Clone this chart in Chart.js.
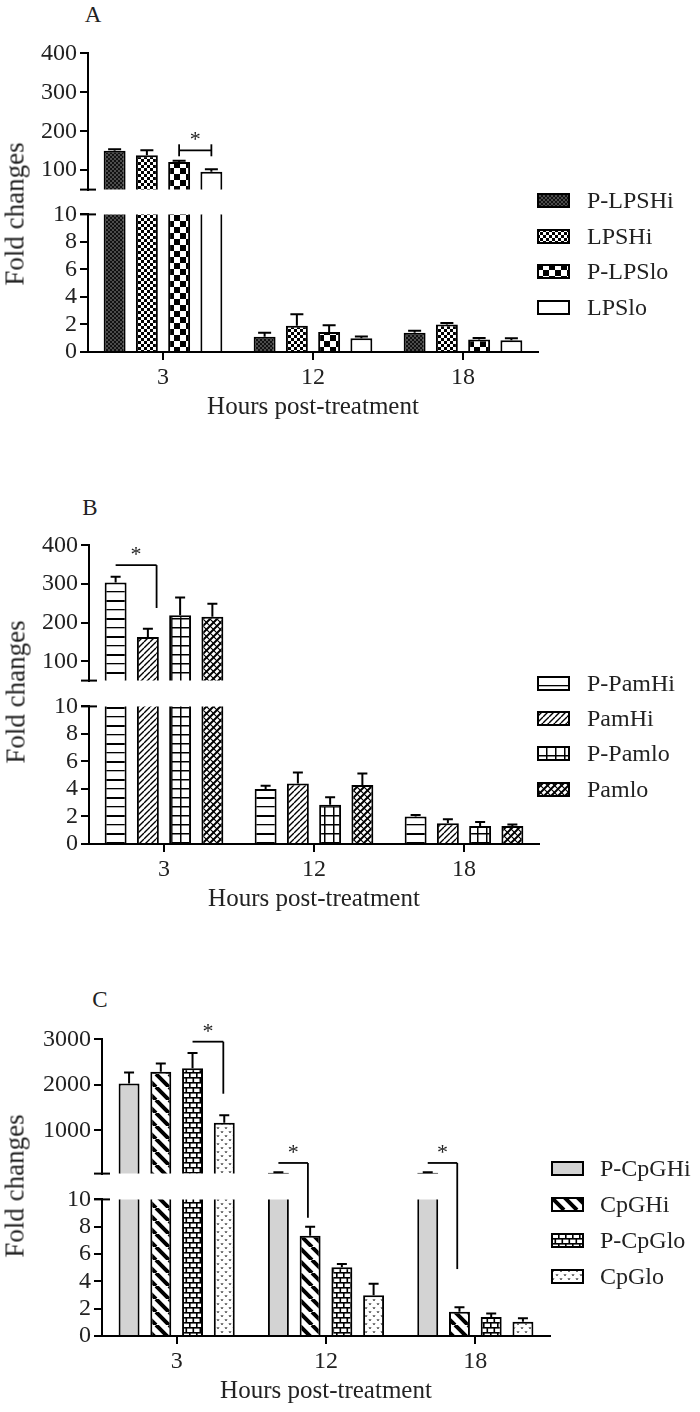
<!DOCTYPE html>
<html>
<head>
<meta charset="utf-8">
<script src="https://cdn.jsdelivr.net/npm/chart.js@4.4.1/dist/chart.umd.min.js"></script>
<style>
  html, body { margin: 0; padding: 0; background: #fff; }
  #page { position: relative; width: 700px; height: 1412px; overflow: hidden; font-family: 'Liberation Serif', 'Times New Roman', serif; color: #222; }
  #page canvas { position: absolute; }
  .txt { position: absolute; white-space: nowrap; line-height: 1; }
</style>
</head>
<body>
<div id="page"></div>
<script>
// ---- data ----
const hours = ['3', '12', '18'];
const lowerTicks = [0, 2, 4, 6, 8, 10];

// panel A
const seriesA = ['P-LPSHi', 'LPSHi', 'P-LPSlo', 'LPSlo'];
const meansA = [[150, 1.1, 1.4], [138, 1.9, 2.0], [121, 1.45, 0.9], [96, 1.0, 0.85]];
const errorsA = [[4, 0.3, 0.15], [13, 0.85, 0.1], [3, 0.5, 0.12], [6, 0.12, 0.15]];
const upperTicksA = [100, 200, 300, 400];

// panel B
const seriesB = ['P-PamHi', 'PamHi', 'P-Pamlo', 'Pamlo'];
const meansB = [[304, 4.0, 2.0], [163, 4.4, 1.5], [219, 2.86, 1.3], [215, 4.28, 1.3]];
const errorsB = [[15, 0.23, 0.1], [21, 0.8, 0.3], [46, 0.53, 0.3], [34, 0.84, 0.12]];
const upperTicksB = [100, 200, 300, 400];

// panel C
const seriesC = ['P-CpGHi', 'CpGHi', 'P-CpGlo', 'CpGlo'];
const meansC = [[2030, 70, 70], [2290, 7.33, 1.77], [2365, 5.03, 1.4], [1170, 2.98, 1.05]];
const errorsC = [[240, 12, 12], [180, 0.66, 0.33], [335, 0.25, 0.25], [160, 0.85, 0.25]];
const upperTicksC = [1000, 2000, 3000];

// significance brackets (group, bar slots, values)
const bracketsA = [{ group: 0, from: 2, to: 3, top: 151, end: null }];
const bracketsB = [{ group: 0, from: 0, to: 1.27, top: 349, end: 238 }];
const bracketsC = [
    { group: 0, from: 2, to: 2.97, top: 2950, end: 1806 },
    { group: 1, from: 0, to: 0.93, top: 284, end: 8.66 },
    { group: 2, from: 0, to: 0.93, top: 284, end: 4.9 }
];

// ---- layout ----
const FONT = "'Liberation Serif', 'Times New Roman', serif";
const PAD = 16;
const panels = [
    { letter: 'A', series: seriesA, means: meansA, errors: errorsA, upperTicks: upperTicksA, upperMin: 50, brackets: bracketsA,
      patterns: ['dark', 'finecheck', 'bigcheck', 'white'],
      axisX: 88, plotW: 450, upperTop: 52, upperBottom: 191, lowerTop: 213, lowerBottom: 352,
      catPct: 0.86, barPct: 0.68, capW: 13, letterPos: [93, 14], titlePos: [15, 214],
      legendX: 537, legendTextX: 587, legendY: [200, 236, 271, 307] },
    { letter: 'B', series: seriesB, means: meansB, errors: errorsB, upperTicks: upperTicksB, upperMin: 50, brackets: bracketsB,
      patterns: ['hlines', 'diag', 'grid', 'weave'],
      axisX: 89, plotW: 450, upperTop: 544, upperBottom: 682, lowerTop: 705, lowerBottom: 844,
      catPct: 0.86, barPct: 0.68, capW: 10, letterPos: [90, 507], titlePos: [16, 692],
      legendX: 537, legendTextX: 587, legendY: [683, 718, 753, 789] },
    { letter: 'C', series: seriesC, means: meansC, errors: errorsC, upperTicks: upperTicksC, upperMin: 50, brackets: bracketsC,
      patterns: ['gray', 'bolddiag', 'brick', 'dots'],
      axisX: 102, plotW: 448, upperTop: 1038, upperBottom: 1175, lowerTop: 1198, lowerBottom: 1336,
      catPct: 0.85, barPct: 0.66, capW: 10, letterPos: [100, 999], titlePos: [15, 1186],
      legendX: 551, legendTextX: 600, legendY: [1168, 1204, 1240, 1276] }
];

const page = document.getElementById('page');
Chart.defaults.font.family = FONT;
Chart.defaults.color = '#222';

function makePattern(kind) {
    if (kind === 'white') return '#ffffff';
    if (kind === 'gray') return '#d3d3d3';
    const c = document.createElement('canvas');
    const g = c.getContext('2d');
    const size = (w, h) => { c.width = w; c.height = h; g.fillStyle = '#fff'; g.fillRect(0, 0, w, h); g.fillStyle = '#000'; g.strokeStyle = '#000'; };
    switch (kind) {
        case 'dark':
            size(4, 4);
            g.fillStyle = '#111'; g.fillRect(0, 0, 4, 4);
            g.fillStyle = '#4c4c4c'; g.fillRect(0, 0, 2, 2); g.fillRect(2, 2, 2, 2);
            break;
        case 'finecheck':
            size(6, 6);
            g.fillRect(0, 0, 3, 3); g.fillRect(3, 3, 3, 3);
            break;
        case 'bigcheck':
            size(12, 12);
            g.fillRect(0, 0, 6, 6); g.fillRect(6, 6, 6, 6);
            break;
        case 'hlines':
            size(9, 18);
            g.fillRect(0, 0, 9, 2); g.fillRect(0, 9, 9, 1.3);
            break;
        case 'diag':
            size(6, 6);
            g.lineWidth = 1.4;
            g.beginPath();
            for (const o of [-6, 0, 6]) { g.moveTo(o, 6); g.lineTo(o + 6, 0); }
            g.stroke();
            break;
        case 'grid':
            size(9, 9);
            g.fillRect(0, 0, 9, 1.5); g.fillRect(0, 0, 1.5, 9);
            break;
        case 'weave':
            size(7, 7);
            g.lineWidth = 2;
            g.beginPath();
            for (const o of [-7, 0, 7]) { g.moveTo(o, 7); g.lineTo(o + 7, 0); }
            g.stroke();
            g.lineWidth = 1.2;
            g.beginPath();
            for (const o of [-7, 0, 7]) { g.moveTo(o, 0); g.lineTo(o + 7, 7); }
            g.stroke();
            break;
        case 'bolddiag':
            size(13, 13);
            g.lineWidth = 4;
            g.beginPath();
            for (const o of [-13, 0, 13]) { g.moveTo(o, 0); g.lineTo(o + 13, 13); }
            g.stroke();
            break;
        case 'brick':
            size(14, 10);
            g.fillRect(0, 0, 14, 1.6); g.fillRect(0, 5, 14, 1.6);
            g.fillRect(0, 0, 1.6, 5); g.fillRect(7, 0, 1.6, 5);
            g.fillRect(3.5, 5, 1.6, 5); g.fillRect(10.5, 5, 1.6, 5);
            break;
        case 'dots':
            size(8, 8);
            g.strokeStyle = '#555'; g.lineWidth = 1;
            g.beginPath();
            g.moveTo(1, 1); g.lineTo(2, 3); g.lineTo(3, 1);
            g.moveTo(5, 5); g.lineTo(6, 7); g.lineTo(7, 5);
            g.stroke();
            break;
    }
    return g.createPattern(c, 'repeat');
}

function errorBarPlugin(panel) {
    return {
        id: 'errorBars',
        afterDatasetsDraw(chart) {
            const { ctx, chartArea } = chart;
            const y = chart.scales.y;
            ctx.save();
            ctx.strokeStyle = '#000';
            ctx.lineWidth = 2;
            chart.data.datasets.forEach((ds, i) => {
                chart.getDatasetMeta(i).data.forEach((bar, j) => {
                    const v = panel.means[i][j];
                    const e = panel.errors[i][j];
                    if (v < y.min || v > y.max) return;
                    const y0 = y.getPixelForValue(v);
                    const y1 = Math.max(y.getPixelForValue(v + e), chartArea.top);
                    ctx.beginPath();
                    ctx.moveTo(bar.x, y0);
                    ctx.lineTo(bar.x, y1);
                    if (v + e <= y.max) {
                        ctx.moveTo(bar.x - panel.capW / 2, y1);
                        ctx.lineTo(bar.x + panel.capW / 2, y1);
                    }
                    ctx.stroke();
                });
            });
            ctx.restore();
        }
    };
}

function buildChart(panel, part) {
    const upper = part === 'upper';
    const areaH = upper ? panel.upperBottom - panel.upperTop : panel.lowerBottom - panel.lowerTop;
    const top = (upper ? panel.upperTop : panel.lowerTop) - PAD;
    const h = PAD + areaH + (upper ? PAD : 70);
    const w = panel.axisX + panel.plotW + 2;
    const canvas = document.createElement('canvas');
    canvas.width = w;
    canvas.height = h;
    canvas.style.left = '0px';
    canvas.style.top = top + 'px';
    canvas.style.width = w + 'px';
    canvas.style.height = h + 'px';
    page.appendChild(canvas);

    const yTicks = upper ? panel.upperTicks : lowerTicks;
    const chart = new Chart(canvas, {
        type: 'bar',
        data: {
            labels: hours,
            datasets: panel.series.map((name, i) => ({
                label: name,
                data: panel.means[i],
                backgroundColor: makePattern(panel.patterns[i]),
                borderColor: '#000',
                borderWidth: 2,
                categoryPercentage: panel.catPct,
                barPercentage: panel.barPct,
                clip: 0
            }))
        },
        options: {
            responsive: false,
            animation: false,
            events: [],
            layout: { padding: { left: 0, right: 2, top: PAD, bottom: upper ? PAD : 0 } },
            plugins: { legend: { display: false }, tooltip: { enabled: false } },
            scales: {
                x: {
                    display: !upper,
                    grid: { offset: false, drawOnChartArea: false, color: '#000', lineWidth: 2, tickLength: 8 },
                    border: { color: '#000', width: 2 },
                    ticks: { font: { size: 24 }, color: '#222', padding: 3 },
                    title: { display: true, text: 'Hours post-treatment', font: { size: 25 }, color: '#222', padding: 0 },
                    afterFit: s => { if (!upper) s.height = 70; }
                },
                y: {
                    min: upper ? panel.upperMin : 0,
                    max: yTicks[yTicks.length - 1],
                    afterBuildTicks: s => { s.ticks = yTicks.map(v => ({ value: v })); },
                    afterFit: s => { s.width = panel.axisX; },
                    grid: { drawOnChartArea: false, color: '#000', lineWidth: 2, tickLength: 8 },
                    border: { color: '#000', width: 2 },
                    ticks: { font: { size: 24 }, color: '#222', padding: 3, autoSkip: false, callback: v => String(v) }
                }
            }
        },
        plugins: [errorBarPlugin(panel)]
    });
    return { chart, top };
}

function addText(text, x, y, size, extra) {
    const d = document.createElement('div');
    d.className = 'txt';
    d.textContent = text;
    d.style.left = x + 'px';
    d.style.top = y + 'px';
    d.style.fontSize = size + 'px';
    d.style.transform = extra || 'translate(-50%, -50%)';
    page.appendChild(d);
}

const overlay = document.createElement('canvas');
overlay.width = 700;
overlay.height = 1412;
overlay.style.left = '0px';
overlay.style.top = '0px';
overlay.style.zIndex = 5;
overlay.style.pointerEvents = 'none';

panels.forEach(panel => {
    const up = buildChart(panel, 'upper');
    const low = buildChart(panel, 'lower');
    panel.up = up;
    panel.low = low;

    addText(panel.letter, panel.letterPos[0], panel.letterPos[1], 23);
    addText('Fold changes', panel.titlePos[0], panel.titlePos[1], 27, 'translate(-50%, -50%) rotate(-90deg)');

    panel.series.forEach((name, i) => {
        const sw = document.createElement('canvas');
        sw.width = 33; sw.height = 15;
        sw.style.left = panel.legendX + 'px';
        sw.style.top = (panel.legendY[i] - 7.5) + 'px';
        const g = sw.getContext('2d');
        g.fillStyle = makePattern(panel.patterns[i]);
        g.fillRect(0, 0, 33, 15);
        g.strokeStyle = '#000'; g.lineWidth = 2;
        g.strokeRect(1, 1, 31, 13);
        page.appendChild(sw);
        addText(name, panel.legendTextX, panel.legendY[i], 24, 'translate(0, -50%)');
    });
});

page.appendChild(overlay);
const oc = overlay.getContext('2d');

function seg(x1, y1, x2, y2) {
    oc.beginPath(); oc.moveTo(x1, y1); oc.lineTo(x2, y2); oc.stroke();
}

panels.forEach(panel => {
    const { up, low } = panel;
    const ax = up.chart.chartArea.left;
    const upY = v => up.top + up.chart.scales.y.getPixelForValue(v);
    const lowY = v => low.top + low.chart.scales.y.getPixelForValue(v);
    oc.strokeStyle = '#000';
    oc.fillStyle = '#222';

    // axis break marks
    oc.lineWidth = 2;
    seg(ax - 8, up.top + up.chart.chartArea.bottom, ax + 8, up.top + up.chart.chartArea.bottom);
    seg(ax - 8, low.top + low.chart.chartArea.top, ax + 8, low.top + low.chart.chartArea.top);

    // significance brackets
    panel.brackets.forEach(b => {
        const barX = k => low.chart.getDatasetMeta(k).data[b.group].x;
        const slotX = s => {
            const k = Math.min(Math.floor(s), panel.series.length - 2);
            return barX(k) + (s - k) * (barX(k + 1) - barX(k));
        };
        const x1 = slotX(b.from);
        const x2 = slotX(b.to);
        const yt = upY(b.top);
        oc.lineWidth = 1.8;
        seg(x1, yt, x2, yt);
        if (b.end === null) {
            seg(x1, yt - 6, x1, yt + 6);
            seg(x2, yt - 6, x2, yt + 6);
        } else {
            const ye = b.end <= lowerTicks[lowerTicks.length - 1] ? lowY(b.end) : upY(b.end);
            seg(x2, yt, x2, ye);
        }
        oc.font = '22px ' + FONT;
        oc.textAlign = 'center';
        oc.textBaseline = 'alphabetic';
        oc.fillText('*', (x1 + x2) / 2, yt - 4);
    });
});
</script>
</body>
</html>
